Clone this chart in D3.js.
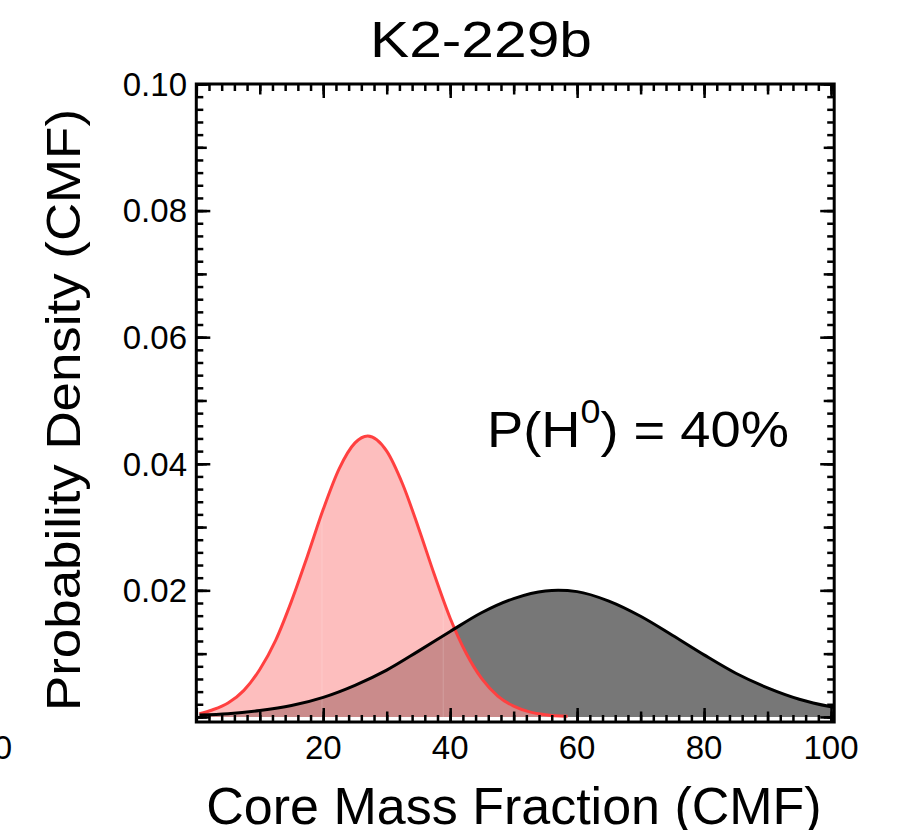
<!DOCTYPE html>
<html>
<head>
<meta charset="utf-8">
<script src="https://cdn.jsdelivr.net/npm/d3@7"></script>
<style>
  body { margin: 0; background: #fff; }
  svg { display: block; font-family: "Liberation Sans", Arial, Helvetica, sans-serif; }
</style>
</head>
<body>
<svg id="svg" width="897" height="830"></svg>
<script>
'use strict';

// Red distribution (pink fill)
const redCMF = [0.5, 2.5, 5, 7.5, 10, 12.5, 15, 17.5, 20, 22.5, 25, 27, 30, 32.5, 35,
  37.5, 40, 42.5, 45, 47.5, 50, 52.5, 55, 58.5];
const redDensity = [0.0005, 0.0011, 0.0022, 0.0042, 0.0075, 0.0121, 0.0183, 0.0254,
  0.0328, 0.0392, 0.0433, 0.0444, 0.0420, 0.0368, 0.0299, 0.0225, 0.0156, 0.0101,
  0.0060, 0.0033, 0.0017, 0.0008, 0.00035, 0.0001];

// Black distribution (grey fill)
const blackCMF = [0.5, 5, 10, 15, 20, 25, 30, 35, 40, 45, 50, 55, 57, 60, 65, 70, 75,
  80, 85, 90, 95, 100, 100.5];
const blackDensity = [0.0003, 0.0005, 0.0010, 0.0018, 0.0031, 0.0050, 0.0074, 0.0104,
  0.0135, 0.0165, 0.0187, 0.0199, 0.0200, 0.0198, 0.0183, 0.0159, 0.0129, 0.0098,
  0.0069, 0.0046, 0.0028, 0.0016, 0.0015];

// Faint seams in the pink fill
const redSeams = [19.8, 38.9];

const xTickLabels = [20, 40, 60, 80, 100];
const yTickLabels = [0.02, 0.04, 0.06, 0.08, 0.10];

const svg = d3.select('#svg');
const plotLeft = 196.3, plotRight = 834.2, plotTop = 84, plotBottom = 722;

const x = d3.scaleLinear().domain([0, 100.5]).range([plotLeft, plotRight]);
const y = d3.scaleLinear().domain([-0.0008, 0.1]).range([plotBottom, plotTop]);

const red = redCMF.map((c, i) => ({ c, d: redDensity[i] }));
const black = blackCMF.map((c, i) => ({ c, d: blackDensity[i] }));

const area = d3.area()
  .x(p => x(p.c))
  .y0(y(0))
  .y1(p => y(p.d))
  .curve(d3.curveMonotoneX);
const line = d3.line()
  .x(p => x(p.c))
  .y(p => y(p.d))
  .curve(d3.curveMonotoneX);

// Fills
svg.append('path').attr('d', area(black)).attr('fill', '#777777');
svg.append('path').attr('d', area(red)).attr('fill', '#fc9797').attr('fill-opacity', 0.625);

svg.append('defs').append('clipPath').attr('id', 'redclip')
  .append('path').attr('d', area(red));
svg.append('g').attr('clip-path', 'url(#redclip)')
  .selectAll('line').data(redSeams).join('line')
  .attr('x1', d => x(d)).attr('x2', d => x(d))
  .attr('y1', plotTop).attr('y2', plotBottom)
  .attr('stroke', '#ffffff').attr('stroke-opacity', 0.18).attr('stroke-width', 1);

// Curves
svg.append('path').attr('d', line(red)).attr('fill', 'none')
  .attr('stroke', '#ff4040').attr('stroke-width', 3);
svg.append('path').attr('d', line(black)).attr('fill', 'none')
  .attr('stroke', '#000').attr('stroke-width', 3);

// Inward ticks on all four sides
const xMinor = d3.range(0, 51).map(i => i * 2);
const xMid = d3.range(0, 11).map(i => i * 10);
const xMajor = d3.range(0, 6).map(i => i * 20);
const yMinor = d3.range(0, 51).map(i => i * 0.002);
const yMid = d3.range(0, 11).map(i => i * 0.01);
const yMajor = d3.range(0, 6).map(i => i * 0.02);

function ticks(axis, values, len, tx, ty) {
  const g = svg.append('g')
    .attr('transform', `translate(${tx},${ty})`)
    .call(axis.tickValues(values).tickSize(-len).tickFormat(''));
  g.select('.domain').remove();
  g.selectAll('line').attr('stroke', '#000').attr('stroke-width', 2.5);
}
[[xMinor, 7], [xMid, 10.5], [xMajor, 14]].forEach(([v, l]) => {
  ticks(d3.axisBottom(x), v, l, 0, plotBottom);
  ticks(d3.axisTop(x), v, l, 0, plotTop);
});
[[yMinor, 7], [yMid, 10.5], [yMajor, 14]].forEach(([v, l]) => {
  ticks(d3.axisLeft(y), v, l, plotLeft, 0);
  ticks(d3.axisRight(y), v, l, plotRight, 0);
});

// Frame
svg.append('rect')
  .attr('x', plotLeft).attr('y', plotTop)
  .attr('width', plotRight - plotLeft).attr('height', plotBottom - plotTop)
  .attr('fill', 'none').attr('stroke', '#000').attr('stroke-width', 3);

// Tick labels
svg.append('g').selectAll('text').data(yTickLabels).join('text')
  .attr('x', 187).attr('y', d => y(d)).attr('dy', '0.36em')
  .attr('text-anchor', 'end').attr('font-size', 33)
  .text(d3.format('.2f'));
svg.append('g').selectAll('text').data(xTickLabels).join('text')
  .attr('x', d => x(d)).attr('y', 759)
  .attr('text-anchor', 'middle').attr('font-size', 33)
  .text(d => d);
svg.append('text').attr('x', 3).attr('y', 759)
  .attr('text-anchor', 'middle').attr('font-size', 33).text('0');

// Titles
svg.append('text').attr('x', 481).attr('y', 57)
  .attr('text-anchor', 'middle').attr('font-size', 50)
  .attr('textLength', 222).attr('lengthAdjust', 'spacingAndGlyphs')
  .text('K2-229b');
svg.append('text').attr('x', 514).attr('y', 824)
  .attr('text-anchor', 'middle').attr('font-size', 52)
  .text('Core Mass Fraction (CMF)');
svg.append('text')
  .attr('transform', 'translate(80,410) rotate(-90)')
  .attr('text-anchor', 'middle').attr('font-size', 48)
  .attr('textLength', 602).attr('lengthAdjust', 'spacingAndGlyphs')
  .text('Probability Density (CMF)');

// Annotation
const ann = svg.append('text').attr('x', 487).attr('y', 447)
  .attr('font-size', 50)
  .attr('textLength', 302).attr('lengthAdjust', 'spacingAndGlyphs');
ann.append('tspan').text('P(H');
ann.append('tspan').attr('dy', -24).attr('font-size', 33).text('0');
ann.append('tspan').attr('dy', 24).text(') = 40%');
</script>
</body>
</html>
